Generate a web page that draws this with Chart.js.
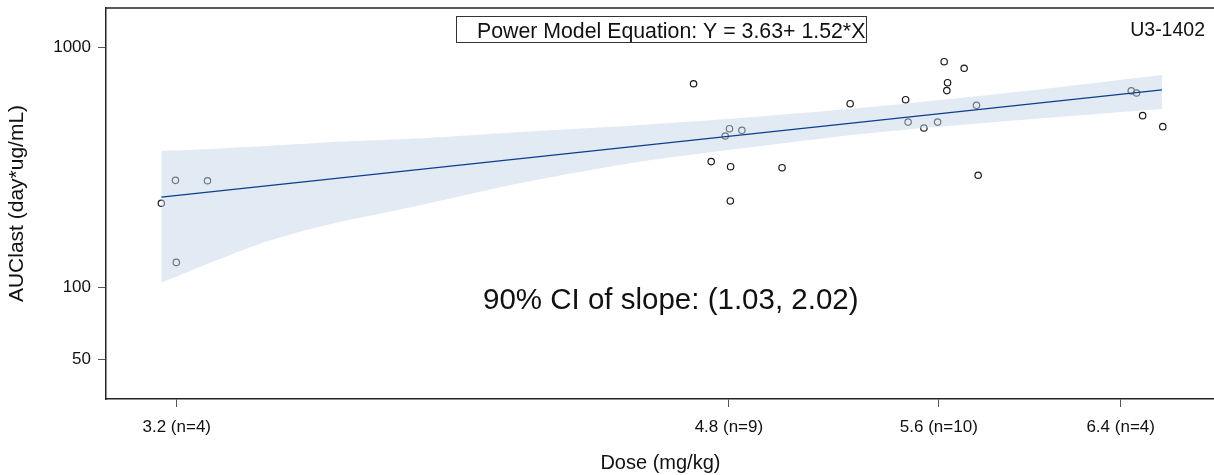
<!DOCTYPE html>
<html>
<head>
<meta charset="utf-8">
<script src="https://cdn.jsdelivr.net/npm/chart.js@4.4.1/dist/chart.umd.min.js"></script>
<style>
  html, body { margin: 0; padding: 0; background: #fff; overflow: hidden; }
  #wrap { width: 1214px; height: 475px; overflow: hidden; }
</style>
</head>
<body>
<div id="wrap"><canvas id="mycanvas" width="1220" height="475"></canvas></div>
<script>
// tick positions and labels
const doseTicks = [3.2, 4.8, 5.6, 6.4];
const doseLabels = ["3.2 (n=4)", "4.8 (n=9)", "5.6 (n=10)", "6.4 (n=4)"];
const aucTicks = [50, 100, 1000];

// individual subjects (dose jittered as in the plot)
const dose = [3.197, 3.273, 3.164, 3.199,
  4.677, 4.738, 4.787, 4.802, 4.806, 4.805, 4.846, 4.991, 5.247,
  5.465, 5.475, 5.539, 5.595, 5.622, 5.636, 5.633, 5.705, 5.757, 5.764,
  6.450, 6.475, 6.504, 6.601];
const auc = [279, 278, 224, 127,
  705, 334, 427, 458, 318, 229, 451, 315, 582,
  605, 488, 461, 488, 871, 712, 660, 818, 573, 293,
  658, 645, 519, 467];

// fitted power model line
const fitDose = [3.164, 6.597];
const fitAuc = [237.7, 664];

// 90% confidence band
const bandDose = [3.164, 3.257, 3.418, 3.591, 3.772, 3.893, 4.120, 4.499, 4.913, 5.366, 5.946, 6.597];
const bandUpper = [370, 375, 388, 403, 414, 423, 444, 475, 515, 569, 654, 767];
const bandLower = [104.5, 122, 155, 185, 211, 231, 272, 334, 388, 444, 498, 553];

const fontFamily = "'Liberation Sans', Arial, sans-serif";

function toPoints(xs, ys) {
  return xs.map((x, i) => ({x: x, y: ys[i]}));
}

// frame top line and the text notes on the plot
const notesPlugin = {
  id: "notes",
  afterDraw(chart) {
    const ctx = chart.ctx;
    const area = chart.chartArea;
    ctx.save();
    ctx.strokeStyle = "#222";
    ctx.lineWidth = 1.5;
    ctx.beginPath();
    ctx.moveTo(area.left, area.top);
    ctx.lineTo(chart.width, area.top);
    ctx.stroke();

    ctx.fillStyle = "#111";
    ctx.textBaseline = "alphabetic";
    ctx.font = "21.3px " + fontFamily;
    ctx.textAlign = "left";
    ctx.fillText("Power Model Equation: Y = 3.63+ 1.52*X", 477, 37.5);
    ctx.strokeStyle = "#333";
    ctx.lineWidth = 1;
    ctx.strokeRect(456.5, 16.5, 410, 26);

    ctx.font = "19.5px " + fontFamily;
    ctx.textAlign = "right";
    ctx.fillText("U3-1402", 1205, 36);

    ctx.textAlign = "left";
    ctx.font = "29.5px " + fontFamily;
    ctx.fillText("90% CI of slope: (1.03, 2.02)", 483, 309);
    ctx.restore();
  }
};

let canvas = document.getElementById("mycanvas");

let chartData = {
  datasets: [
    {
      label: "fit",
      data: toPoints(fitDose, fitAuc),
      showLine: true,
      borderColor: "#0d3f8f",
      borderWidth: 1.3,
      pointRadius: 0,
      fill: false,
      order: 0,
    },
    {
      label: "upper",
      data: toPoints(bandDose, bandUpper),
      showLine: true,
      tension: 0.3,
      borderWidth: 0,
      borderColor: "rgba(0,0,0,0)",
      backgroundColor: "rgba(197, 213, 233, 0.5)",
      pointRadius: 0,
      fill: "+1",
      order: 1,
    },
    {
      label: "lower",
      data: toPoints(bandDose, bandLower),
      showLine: true,
      tension: 0.3,
      borderWidth: 0,
      borderColor: "rgba(0,0,0,0)",
      pointRadius: 0,
      fill: false,
      order: 2,
    },
    {
      label: "subjects",
      data: toPoints(dose, auc),
      pointStyle: "circle",
      pointRadius: 3.2,
      pointBorderWidth: 1.2,
      borderColor: "#1a1a1a",
      backgroundColor: "rgba(0,0,0,0)",
      order: 3,
    },
  ],
};

let chartOptions = {
  responsive: false,
  animation: false,
  layout: { padding: { top: 8, right: 0, bottom: 0, left: 0 } },
  plugins: {
    legend: { display: false },
    tooltip: { enabled: false },
  },
  scales: {
    x: {
      type: "logarithmic",
      min: 3.038,
      max: 6.858,
      bounds: "data",
      afterBuildTicks: (scale) => { scale.ticks = doseTicks.map(v => ({value: v})); },
      afterFit: (scale) => {
        scale.height = 76;
        scale.paddingLeft = 0;
        scale.paddingRight = 0;
      },
      grid: { drawOnChartArea: false, drawTicks: true, tickLength: 8, color: "#555", lineWidth: 1 },
      border: { display: true, color: "#222", width: 1.5 },
      ticks: {
        autoSkip: false,
        maxRotation: 0,
        padding: 10,
        color: "#111",
        font: { family: fontFamily, size: 17 },
        callback: (value, index) => doseLabels[index],
      },
      title: {
        display: true,
        text: "Dose (mg/kg)",
        color: "#111",
        font: { family: fontFamily, size: 20 },
        padding: { top: 4, bottom: 0 },
      },
    },
    y: {
      type: "logarithmic",
      min: 34.24,
      max: 1458,
      bounds: "data",
      afterBuildTicks: (scale) => { scale.ticks = aucTicks.map(v => ({value: v})); },
      afterFit: (scale) => {
        scale.width = 106;
        scale.paddingTop = 0;
        scale.paddingBottom = 0;
      },
      grid: { drawOnChartArea: false, drawTicks: true, tickLength: 8, color: "#555", lineWidth: 1 },
      border: { display: true, color: "#222", width: 1.5 },
      ticks: {
        padding: 7,
        color: "#111",
        font: { family: fontFamily, size: 17 },
        callback: (value) => String(value),
      },
      title: {
        display: true,
        text: "AUClast (day*ug/mL)",
        color: "#111",
        font: { family: fontFamily, size: 21 },
        padding: { top: 5, bottom: 0 },
      },
    },
  },
};

let scatterChart = new Chart(canvas, {
  type: "scatter",
  data: chartData,
  options: chartOptions,
  plugins: [notesPlugin],
});
</script>
</body>
</html>
